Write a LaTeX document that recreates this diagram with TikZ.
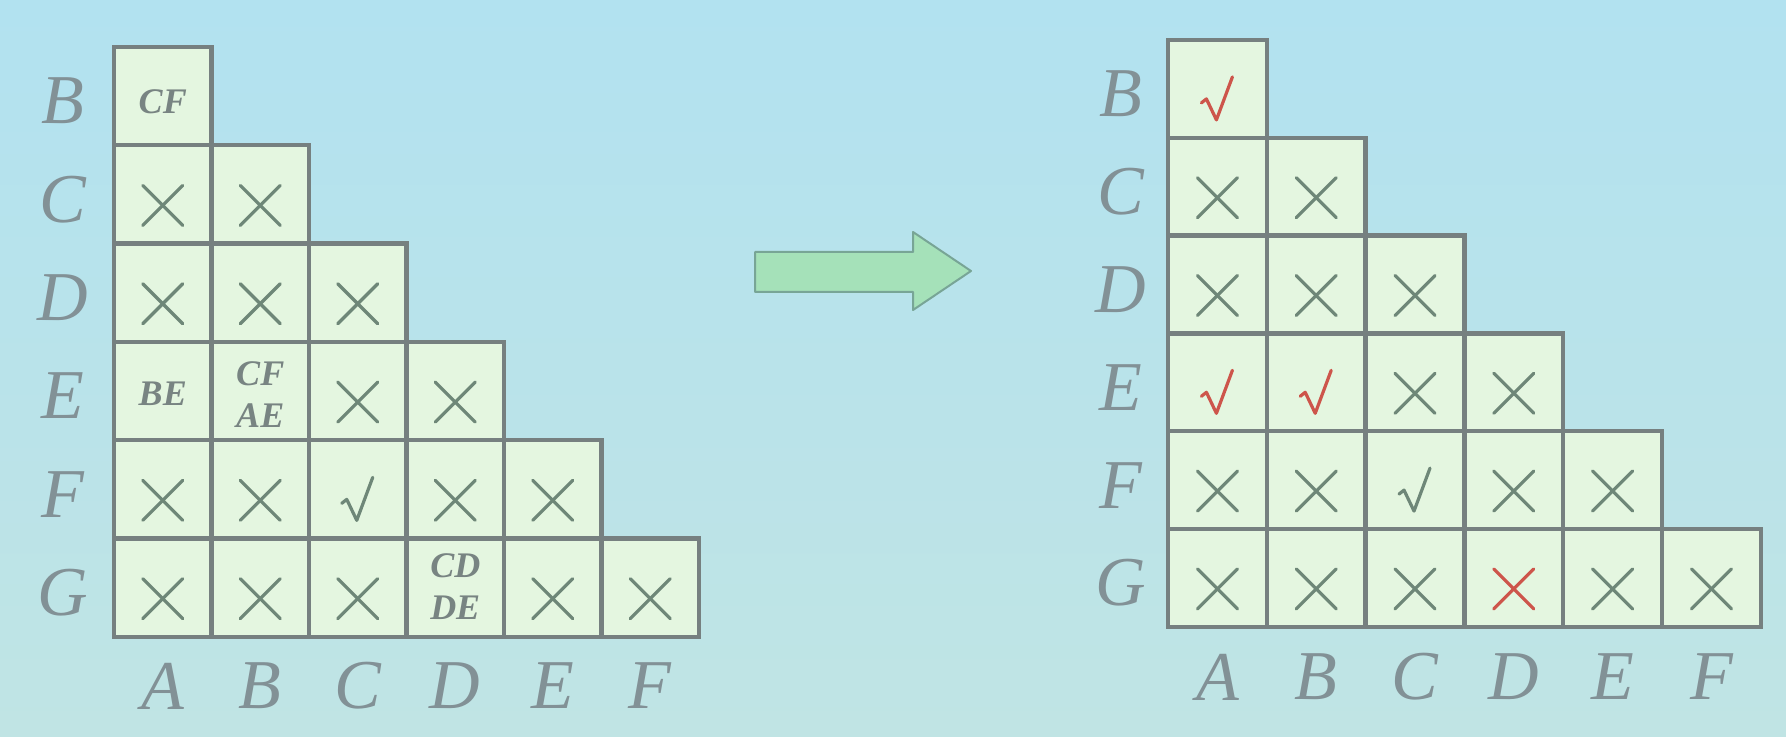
\documentclass[tikz,border=0pt]{standalone}
\usepackage{fontspec}
\setmainfont{Liberation Serif}
\definecolor{bgtop}{RGB}{178,226,240}
\definecolor{bgbot}{RGB}{192,228,228}
\definecolor{cellfill}{RGB}{228,246,224}
\definecolor{gridc}{RGB}{118,128,128}
\definecolor{labc}{RGB}{130,145,150}
\definecolor{txtc}{RGB}{120,132,130}
\definecolor{xc}{RGB}{110,135,120}
\definecolor{redc}{RGB}{205,85,75}
\definecolor{arrowfill}{RGB}{165,225,185}
\definecolor{arrowdraw}{RGB}{120,165,150}
\tikzset{
  cellL/.style={draw=gridc, line width=2.2pt, fill=cellfill, minimum width=48.75pt, minimum height=49.15pt, inner sep=0pt},
  cellR/.style={draw=gridc, line width=2.2pt, fill=cellfill, minimum width=49.4pt, minimum height=48.9pt, inner sep=0pt},
  biglab/.style={font=\fontsize{35}{38}\selectfont\itshape, text=labc, inner sep=0pt},
  smalltxt/.style={font=\fontsize{18}{21}\selectfont\bfseries\itshape, text=txtc, align=center, inner sep=0pt},
  xstroke/.style={line width=1.6pt, line cap=round},
  ckstroke/.style={line width=1.6pt, line cap=round, line join=round}
}
\newcommand\xm[2]{%
  \draw[xstroke, #2] ([shift={(-20,-9)}]#1.center) -- ([shift={(20,31)}]#1.center);
  \draw[xstroke, #2] ([shift={(20,-9)}]#1.center) -- ([shift={(-20,31)}]#1.center);}
\newcommand\ck[2]{%
  \draw[ckstroke, #2] ([shift={(-16,14)}]#1.center) -- ++(5,-4) -- ++(10,21) -- ++(16,-43);}
\begin{document}
\begin{tikzpicture}[x=0.5pt,y=-0.5pt]
\useasboundingbox (0,0) rectangle (1786,737);
\shade[top color=bgtop, bottom color=bgbot] (0,0) rectangle (1786,737);

% ---------- left grid ----------
\foreach \r [count=\ri from 0] in {B,C,D,E,F,G} {
  \node[biglab] (leftrow\r) at (63, {96.15+98.3*\ri+5}) {\r};
  \foreach \c [count=\ci from 0] in {A,B,C,D,E,F} {
    \ifnum\ci>\ri\else
      \node[cellL] (L\r\c) at ({162.75+97.5*\ci}, {96.15+98.3*\ri}) {};
    \fi
  }
}
\foreach \c [count=\ci from 0] in {A,B,C,D,E,F} {
  \node[biglab] (leftcol\c) at ({162.75+97.5*\ci}, 686) {\c};
}
\node[smalltxt] (tBA) at ([shift={(0,6)}]LBA.center) {CF};
\node[smalltxt] (tEA) at ([shift={(0,3)}]LEA.center) {BE};
\node[smalltxt] (tEB) at ([shift={(0,4)}]LEB.center) {CF\\AE};
\node[smalltxt] (tGD) at ([shift={(0,-1)}]LGD.center) {CD\\DE};
\xm{LCA}{xc} \xm{LCB}{xc}
\xm{LDA}{xc} \xm{LDB}{xc} \xm{LDC}{xc}
\xm{LEC}{xc} \xm{LED}{xc}
\xm{LFA}{xc} \xm{LFB}{xc} \ck{LFC}{xc} \xm{LFD}{xc} \xm{LFE}{xc}
\xm{LGA}{xc} \xm{LGB}{xc} \xm{LGC}{xc} \xm{LGE}{xc} \xm{LGF}{xc}

% ---------- arrow ----------
\draw[fill=arrowfill, draw=arrowdraw, line width=1pt, line join=round]
  (755,252) -- (913,252) -- (913,232) -- (971,271) -- (913,310) -- (913,292) -- (755,292) -- cycle;

% ---------- right grid ----------
\foreach \r [count=\ri from 0] in {B,C,D,E,F,G} {
  \node[biglab] (rightrow\r) at (1121, {88.9+97.8*\ri+5}) {\r};
  \foreach \c [count=\ci from 0] in {A,B,C,D,E,F} {
    \ifnum\ci>\ri\else
      \node[cellR] (R\r\c) at ({1217.4+98.8*\ci}, {88.9+97.8*\ri}) {};
    \fi
  }
}
\foreach \c [count=\ci from 0] in {A,B,C,D,E,F} {
  \node[biglab] (rightcol\c) at ({1217.4+98.8*\ci}, 677) {\c};
}
\ck{RBA}{redc}
\xm{RCA}{xc} \xm{RCB}{xc}
\xm{RDA}{xc} \xm{RDB}{xc} \xm{RDC}{xc}
\ck{REA}{redc} \ck{REB}{redc} \xm{REC}{xc} \xm{RED}{xc}
\xm{RFA}{xc} \xm{RFB}{xc} \ck{RFC}{xc} \xm{RFD}{xc} \xm{RFE}{xc}
\xm{RGA}{xc} \xm{RGB}{xc} \xm{RGC}{xc} \xm{RGD}{redc} \xm{RGE}{xc} \xm{RGF}{xc}
\end{tikzpicture}
\end{document}
